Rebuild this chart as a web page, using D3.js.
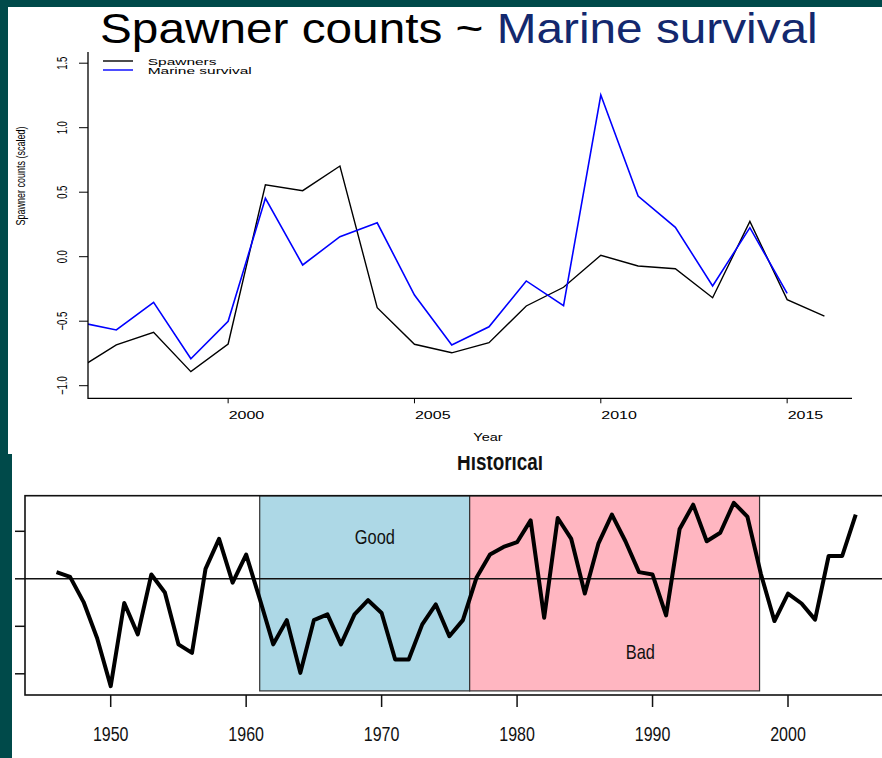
<!DOCTYPE html>
<html>
<head>
<meta charset="utf-8">
<script src="https://cdn.jsdelivr.net/npm/d3@7"></script>
<style>
  html, body { margin: 0; padding: 0; background: #ffffff; }
  svg { display: block; font-family: "Liberation Sans", Arial, Helvetica, sans-serif; }
</style>
</head>
<body>
<svg id="chart" width="882" height="758"></svg>
<script>
// ---- Recent series (scaled) ----
const recentYears = [1996, 1997, 1998, 1999, 2000, 2001, 2002, 2003, 2004, 2005, 2006,
                     2007, 2008, 2009, 2010, 2011, 2012, 2013, 2014, 2015, 2016];
const spawners = [-0.865, -0.684, -0.586, -0.891, -0.677, 0.558, 0.512, 0.703, -0.395, -0.679, -0.745,
                  -0.667, -0.382, -0.237, 0.011, -0.072, -0.093, -0.318, 0.274, -0.333, -0.46];
const marineYears = [1996, 1997, 1998, 1999, 2000, 2001, 2002, 2003, 2004, 2005,
                     2006, 2007, 2008, 2009, 2010, 2011, 2012, 2013, 2014, 2015];
const marineSurvival = [-0.508, -0.568, -0.354, -0.791, -0.501, 0.453, -0.064, 0.155, 0.263, -0.297,
                        -0.684, -0.543, -0.188, -0.380, 1.253, 0.470, 0.228, -0.227, 0.225, -0.284];
const topYTicks = [-1.0, -0.5, 0.0, 0.5, 1.0, 1.5];
const topXTicks = [2000, 2005, 2010, 2015];
const seriesNames = ["Spawners", "Marine survival"];
const seriesColors = ["#000000", "#0000ff"];

// ---- Historical index ----
const histYears = [1946, 1947, 1948, 1949, 1950, 1951, 1952, 1953, 1954, 1955,
                   1956, 1957, 1958, 1959, 1960, 1961, 1962, 1963, 1964, 1965,
                   1966, 1967, 1968, 1969, 1970, 1971, 1972, 1973, 1974, 1975,
                   1976, 1977, 1978, 1979, 1980, 1981, 1982, 1983, 1984, 1985,
                   1986, 1987, 1988, 1989, 1990, 1991, 1992, 1993, 1994, 1995,
                   1996, 1997, 1998, 1999, 2000, 2001, 2002, 2003, 2004, 2005];
const histValues = [0.14, 0.04, -0.49, -1.25, -2.26, -0.51, -1.17, 0.09, -0.29, -1.38,
                    -1.56, 0.21, 0.84, -0.08, 0.51, -0.42, -1.38, -0.87, -1.98, -0.87,
                    -0.75, -1.38, -0.75, -0.45, -0.72, -1.70, -1.70, -0.96, -0.54, -1.21,
                    -0.87, 0.02, 0.51, 0.67, 0.77, 1.23, -0.82, 1.28, 0.84, -0.31,
                    0.74, 1.35, 0.79, 0.14, 0.09, -0.77, 1.05, 1.56, 0.79, 0.97,
                    1.60, 1.31, 0.10, -0.89, -0.31, -0.52, -0.86, 0.48, 0.48, 1.35];
const histXTicks = [1950, 1960, 1970, 1980, 1990, 2000];
const histYTicks = [-2, -1, 0, 1];
const regimeLabels = ["Good", "Bad"];
const regimeStart = [1961, 1976.5];
const regimeEnd = [1976.5, 1997.9];
const regimeColors = ["#add8e6", "#ffb6c1"];
const regimeLabelYear = [1969.5, 1989.1];
const regimeLabelValue = [0.88, -1.55];

const svg = d3.select("#chart");

// text helper: horizontally stretched text, optional rotation
function label(g, x, y, str, o) {
  o = o || {};
  return g.append("text")
    .attr("transform", `translate(${x},${y}) scale(${o.sx || 1},1)` + (o.rot ? ` rotate(${o.rot})` : ""))
    .attr("text-anchor", o.anchor || "middle")
    .attr("font-size", o.size || 10)
    .attr("font-weight", o.weight || "normal")
    .attr("fill", o.fill || "#000")
    .text(str);
}

// =================== Historical panel (drawn first; top panel overlaps it) ===================
const hb = svg.append("g");
const hx = d3.scaleLinear().domain([1950, 2000]).range([110.7, 788]);
const hy = d3.scaleLinear().domain([-2, 1]).range([673.8, 531.3]);
const frameL = 25, frameT = 495.7, frameB = 695;

// regime rectangles
regimeLabels.forEach((name, i) => {
  hb.append("rect")
    .attr("x", hx(regimeStart[i]))
    .attr("y", frameT)
    .attr("width", hx(regimeEnd[i]) - hx(regimeStart[i]))
    .attr("height", hy(-2.36) - frameT)
    .attr("fill", regimeColors[i])
    .attr("stroke", "#333")
    .attr("stroke-width", 1.2);
});

// regime labels
regimeLabels.forEach((name, i) => {
  label(hb, hx(regimeLabelYear[i]), hy(regimeLabelValue[i]) + 7, name,
        { size: 20, sx: 0.82, fill: "#111" });
});

// zero line
hb.append("line")
  .attr("x1", frameL).attr("x2", 882)
  .attr("y1", hy(0)).attr("y2", hy(0))
  .attr("stroke", "#111").attr("stroke-width", 1.5);

// frame
hb.append("rect")
  .attr("x", frameL).attr("y", frameT)
  .attr("width", 900 - frameL).attr("height", frameB - frameT)
  .attr("fill", "none").attr("stroke", "#111").attr("stroke-width", 1.6);

// historical line
hb.append("path")
  .datum(histYears.map((yr, i) => [yr, histValues[i]]))
  .attr("fill", "none")
  .attr("stroke", "#000")
  .attr("stroke-width", 4)
  .attr("stroke-linejoin", "round")
  .attr("d", d3.line().x(d => hx(d[0])).y(d => hy(d[1])));

// x axis ticks + labels
histXTicks.forEach(t => {
  hb.append("line").attr("x1", hx(t)).attr("x2", hx(t))
    .attr("y1", frameB).attr("y2", frameB + 12)
    .attr("stroke", "#111").attr("stroke-width", 1.5);
  label(hb, hx(t), 740.5, String(t), { size: 20, sx: 0.8, fill: "#111" });
});
// y axis ticks (labels fall outside the visible area)
histYTicks.forEach(t => {
  hb.append("line").attr("x1", frameL - 10).attr("x2", frameL)
    .attr("y1", hy(t)).attr("y2", hy(t))
    .attr("stroke", "#111").attr("stroke-width", 1.5);
});

// panel title
label(hb, 500, 470, "Historical", { size: 23, sx: 0.82, weight: "bold", fill: "#111" });

// =================== Recent panel ===================
const tp = svg.append("g");
tp.append("rect").attr("x", 0).attr("y", 0).attr("width", 882).attr("height", 456).attr("fill", "#fff");

const plotL = 88, plotR = 852, plotT = 52, plotB = 398.3;
const x = d3.scaleLinear().domain([1996.24, 2016.74]).range([plotL, plotR]);
const y = d3.scaleLinear().domain([-1, 1.5]).range([385.7, 63.2]);

svg.append("defs").append("clipPath").attr("id", "plotclip")
  .append("rect").attr("x", plotL).attr("y", plotT)
  .attr("width", plotR - plotL).attr("height", plotB - plotT);

const lines = tp.append("g").attr("clip-path", "url(#plotclip)");
const lineGen = d3.line().x(d => x(d[0])).y(d => y(d[1]));
lines.append("path")
  .datum(recentYears.map((yr, i) => [yr, spawners[i]]))
  .attr("fill", "none").attr("stroke", seriesColors[0]).attr("stroke-width", 1.4)
  .attr("d", lineGen);
lines.append("path")
  .datum(marineYears.map((yr, i) => [yr, marineSurvival[i]]))
  .attr("fill", "none").attr("stroke", seriesColors[1]).attr("stroke-width", 1.6)
  .attr("d", lineGen);

// L-shaped box
tp.append("path")
  .attr("d", `M${plotL},${plotT}V${plotB}H${plotR}`)
  .attr("fill", "none").attr("stroke", "#000").attr("stroke-width", 1.3);

// y ticks (rotated, stretched labels)
topYTicks.forEach(t => {
  tp.append("line").attr("x1", plotL - 9).attr("x2", plotL)
    .attr("y1", y(t)).attr("y2", y(t)).attr("stroke", "#000").attr("stroke-width", 1);
  label(tp, 67, y(t), d3.format(".1f")(t), { size: 9.5, sx: 1.5, rot: -90 });
});

// x ticks, labels start at the tick
topXTicks.forEach(t => {
  tp.append("line").attr("x1", x(t)).attr("x2", x(t))
    .attr("y1", plotB).attr("y2", plotB + 5).attr("stroke", "#000").attr("stroke-width", 1);
  label(tp, x(t) + 0.5, 418.5, String(t), { size: 10, sx: 1.6, anchor: "start" });
});

// axis titles
label(tp, 488, 440.5, "Year", { size: 10, sx: 1.45 });
label(tp, 25, 176, "Spawner counts (scaled)", { size: 9, sx: 1.5, rot: -90 });

// legend
seriesNames.forEach((name, i) => {
  const ly = 61 + i * 9;
  tp.append("line").attr("x1", 103).attr("x2", 133).attr("y1", ly).attr("y2", ly)
    .attr("stroke", seriesColors[i]).attr("stroke-width", 1.4);
  label(tp, 147.7, ly + 4.3, name, { size: 9, sx: 1.72, anchor: "start" });
});

// headline
const title = tp.append("text")
  .attr("text-anchor", "start")
  .attr("font-size", 42);
title.append("tspan").attr("fill", "#000").text("Spawner counts ~ ");
title.append("tspan").attr("fill", "#13286e").text("Marine survival");
const tw = title.node().getComputedTextLength();
title.attr("transform", `translate(100,43) scale(${718 / tw},1)`);

// slide frame strips
svg.append("rect").attr("x", 0).attr("y", 0).attr("width", 882).attr("height", 7).attr("fill", "#004a4a");
svg.append("rect").attr("x", 0).attr("y", 0).attr("width", 8).attr("height", 758).attr("fill", "#004a4a");
svg.append("rect").attr("x", 0).attr("y", 454).attr("width", 12).attr("height", 304).attr("fill", "#004a4a");
</script>
</body>
</html>
